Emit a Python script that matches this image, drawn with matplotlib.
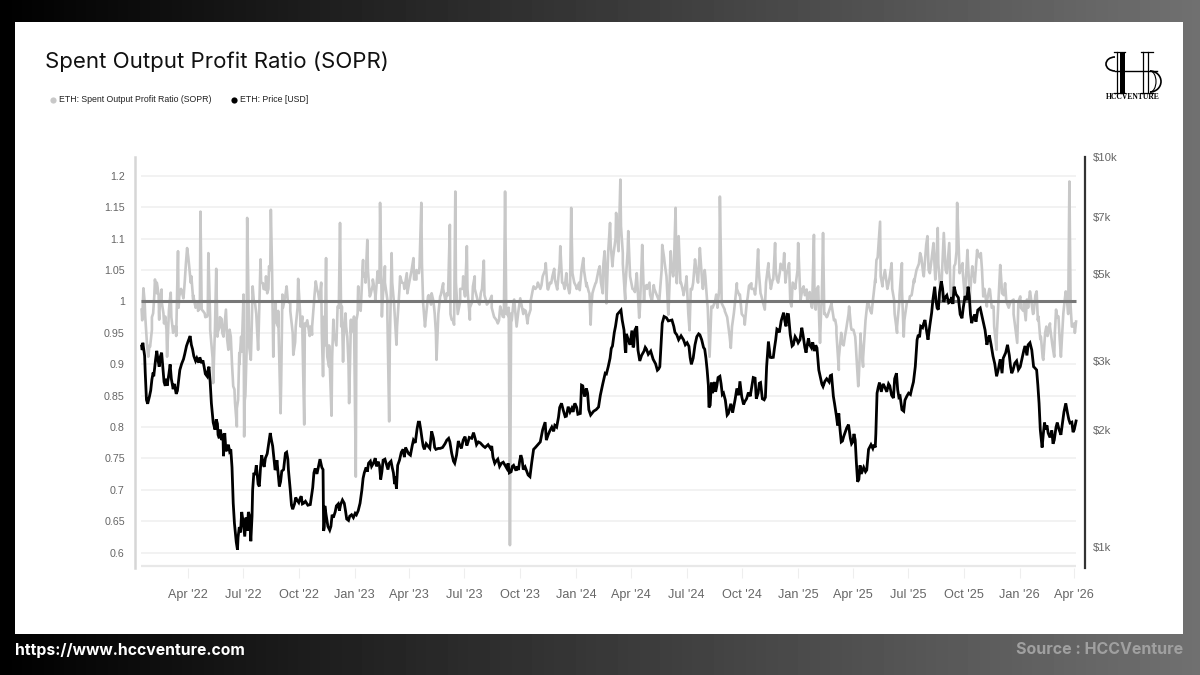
import matplotlib
matplotlib.use("Agg")
import numpy as np
import pandas as pd
import matplotlib.pyplot as plt
from matplotlib.patches import Arc, Rectangle
from matplotlib.ticker import FixedLocator, NullLocator

START = pd.Timestamp("2022-01-14")

# days since START
SOPR_DAYS = [1, 4, 7, 9, 12, 15, 18, 20, 23, 26, 29, 30, 34, 37, 40, 43, 47, 49, 53, 58, 61, 63, 68, 72, 76, 80, 83, 86, 91, 94,
             98, 100, 105, 109, 111, 114, 119, 124, 126, 130, 133, 136, 140, 144, 148, 152, 155, 158, 160, 162, 165, 169, 170, 171, 175, 178, 181, 184, 188, 193,
             197, 201, 205, 208, 211, 214, 216, 218, 222, 226, 230, 233, 240, 246, 251, 255, 259, 263, 266, 269, 271, 279, 282, 288, 292, 297, 300, 302, 305, 307,
             310, 314, 317, 324, 328, 331, 333, 337, 340, 343, 346, 351, 354, 357, 358, 362, 366, 370, 373, 377, 382, 386, 390, 394, 397, 402, 406, 409, 413, 417,
             421, 427, 433, 439, 449, 454, 459, 462, 465, 468, 473, 479, 484, 487, 493, 498, 504, 509, 512, 516, 518, 521, 526, 531, 534, 537, 539, 542, 547, 550,
             554, 560, 565, 569, 578, 583, 588, 592, 596, 600, 603, 606, 608, 610, 615, 619, 625, 631, 637, 642, 647, 653, 660, 667, 671, 676, 681, 686, 691, 696,
             701, 706, 709, 711, 717, 723, 729, 734, 739, 741, 744, 749, 756, 761, 764, 767, 773, 777, 783, 787, 790, 794, 798, 803, 807, 812, 817, 821, 826, 829,
             833, 839, 845, 853, 859, 863, 869, 873, 877, 881, 883, 886, 889, 894, 899, 904, 908, 913, 917, 921, 925, 929, 933, 937, 940, 948, 954, 957, 962, 968,
             972, 977, 982, 987, 995, 1000, 1006, 1012, 1017, 1021, 1028, 1034, 1037, 1041, 1045, 1048, 1053, 1060, 1064, 1068, 1072, 1078, 1083, 1087, 1092, 1097, 1103, 1105, 1109, 1112,
             1116, 1119, 1122, 1124, 1127, 1131, 1138, 1144, 1146, 1150, 1155, 1160, 1167, 1171, 1177, 1182, 1186, 1190, 1193, 1197, 1204, 1210, 1212, 1218, 1222, 1226, 1232, 1237, 1241, 1246,
             1250, 1254, 1257, 1262, 1267, 1274, 1278, 1284, 1289, 1296, 1300, 1306, 1309, 1313, 1317, 1323, 1328, 1332, 1336, 1340, 1345, 1349, 1354, 1358, 1362, 1366, 1370, 1374, 1378, 1384,
             1388, 1394, 1399, 1405, 1410, 1416, 1419, 1424, 1432, 1438, 1444, 1449, 1455, 1460, 1465, 1471, 1476, 1479, 1483, 1487, 1492, 1498, 1505, 1508, 1512, 1516, 1520, 1524, 1527, 1530,
             1532, 1535, 1539, 1541]
SOPR_VALUES = [.987, 1.021, .976, .944, .912, .928, .955, .981, 1.035, 1.013, 1.011, .971, 1.019, .981, .976, .912, .997, 1.014, .950, .960, 1.08, 1.008, 1.013, 1.03, 1.085, 1.05, 1.04, 1.003, .992, .997,
               1.143, .987, .981, .976, 1.077, .971, .87, 1.052, .944, .96, .972, .944, .987, .923, .944, .865, .838, .801, .843, .918, .944, 1.011, .785, .843, 1.133, .955, .907, 1.024, .997, .923,
               1.067, 1.029, 1.019, 1.013, 1.056, 1.146, 1.05, .912, .997, .96, .822, 1.011, 1.024, .997, .915, .96, 1.036, .96, .976, .804, .96, .96, .947, 1.032, 1.013, 1.03, .881, .976, 1.069, .912,
               .896, .818, .971, .992, 1.125, .992, .904, .981, .944, .838, .971, .976, .721, .981, 1.024, .987, 1.066, 1.045, 1.098, 1.008, 1.026, 1.011, 1.048, 1.157, .976, 1.056, 1.003, .809, 1.077, .997,
               .931, 1.04, 1.029, 1.013, 1.069, 1.035, 1.056, 1.157, .997, .96, 1.008, 1.013, .981, .907, 1.008, 1.029, 1.013, 1.122, .971, .963, 1.175, .997, 1.0, 1.04, 1.008, 1.088, 1.008, .971, 1.024, 1.04,
               1.005, 1.013, 1.065, 1.0, 1.009, .974, .965, .992, .976, 1.175, .981, .976, .612, .981, 1.003, .96, 1.005, .987, .965, .987, 1.024, 1.024, 1.026, 1.061, 1.019, 1.029, 1.052, 1.019, 1.088, 1.029,
               1.045, 1.013, 1.149, 1.045, 1.024, 1.018, 1.069, 1.024, 1.013, .963, 1.013, 1.029, 1.056, 1.013, 1.08, .997, 1.125, 1.056, 1.141, 1.08, 1.194, 1.077, 1.003, 1.112, 1.035, 1.019, 1.045, .974, 1.09, 1.0,
               1.026, 1.011, 1.026, 1.003, 1.09, 1.061, .979, 1.08, 1.04, 1.149, 1.029, 1.104, 1.029, 1.013, 1.04, .954, 1.019, 1.067, 1.035, 1.085, 1.029, 1.05, 1.0, .912, .992, 1.011, 1.167, .997, .987, .96,
               .926, .981, 1.029, 1.011, .963, 1.008, 1.029, 1.011, 1.083, 1.013, .987, 1.061, 1.029, 1.035, 1.093, 1.035, 1.048, 1.077, 1.045, 1.061, .992, 1.024, 1.093, 1.003, 1.024, 1.019, 1.008, .992, 1.106, .987,
               1.024, .934, 1.003, 1.109, .981, .976, .997, .971, .96, .891, .934, .944, .992, .955, .944, .865, .949, .896, .955, .997, .981, 1.035, 1.066, 1.127, 1.024, 1.05, 1.029, 1.061, 1.003, .95,
               1.003, 1.061, .944, .997, 1.008, 1.035, 1.05, 1.077, 1.045, 1.104, 1.045, 1.093, 1.035, 1.117, 1.024, 1.109, 1.045, 1.093, 1.003, 1.056, 1.157, 1.045, 1.061, 1.003, 1.082, 1.003, 1.056, 1.035, 1.082, 1.077,
               1.008, .992, 1.019, .992, .923, 1.058, 1.013, 1.029, .997, 1.003, .934, 1.008, .997, 1.003, 1.016, .981, 1.016, .976, .944, .907, .96, .965, .912, .987, .976, .912, .981, 1.016, .992, 1.191,
               .992, .96, .95, .968]
# finer wiggle of the grey band, read between the points above
SOPR_DETAIL = [(2, .97), (6, 1.0), (10, .93), (14, .93), (18, .975), (22, 1.01), (26, 1.03), (30, .985), (34, 1.0), (38, .965),
               (42, .955), (46, .985), (50, .975), (54, .96), (58, .945), (62, .99), (66, 1.02), (70, 1.005), (74, 1.06), (78, 1.07),
               (82, 1.03), (86, 1.01), (90, .99), (94, .985), (97, .99), (102, .985), (106, .975), (110, .98), (114, .955), (118, .91),
               (122, .96), (126, .95), (130, .975), (134, .95), (138, .965), (142, .94), (146, .955), (150, .90), (154, .86), (158, .83),
               (162, .90), (166, .92), (172, .85), (174, .92), (178, .93), (182, .94), (186, 1.0), (190, .98), (194, .955), (198, 1.03),
               (202, 1.02), (206, 1.04), (210, 1.02), (213, 1.05), (219, .96), (222, .97), (226, .985), (231, .87), (234, .99), (238, 1.01),
               (242, 1.0), (246, .985), (250, .95), (254, .935), (258, .99), (262, .985), (266, .95), (270, .965), (274, .97), (278, .945),
               (282, .96), (286, 1.01), (290, 1.02), (294, 1.0), (298, .95), (303, .93), (306, .94), (310, .93), (315, .91), (318, .95),
               (322, .93), (326, .99), (330, .96), (334, .94), (338, .96), (342, .90), (346, .95), (350, .96), (355, .97), (358, 1.0),
               (362, .985), (366, 1.04), (370, 1.03), (374, 1.05), (378, 1.01), (382, 1.035), (386, 1.0), (390, 1.03), (393, 1.03), (398, 1.0),
               (402, 1.03), (406, .98), (410, .93), (414, 1.03), (418, .98), (422, .96), (426, 1.02), (430, 1.03), (434, 1.02), (438, 1.045),
               (442, 1.03), (446, 1.05), (450, 1.035), (454, 1.05), (458, 1.045), (463, 1.06), (466, .985), (470, .98), (474, 1.01), (478, .995),
               (482, 1.0), (486, .95), (490, .98), (494, 1.01), (498, 1.02), (502, 1.0), (506, 1.01), (510, .98), (514, .97), (519, 1.03),
               (522, .98), (526, 1.02), (530, 1.02), (533, 1.015), (538, 1.02), (542, .99), (546, 1.0), (550, 1.02), (555, 1.0), (558, .995),
               (562, 1.02), (566, 1.01), (570, .995), (574, 1.0), (578, .99), (582, .975), (586, .97), (590, .97), (594, .985), (598, .975),
               (602, .98), (606, .99), (611, .97), (614, 1.0), (618, .97), (622, .985), (626, 1.0), (630, .98), (634, .985), (638, .975),
               (642, 1.0), (646, 1.02), (650, 1.02), (654, 1.03), (658, 1.02), (662, 1.04), (666, 1.05), (670, 1.02), (674, 1.03), (678, 1.04),
               (682, 1.035), (686, 1.02), (690, 1.06), (694, 1.03), (698, 1.02), (702, 1.03), (707, 1.02), (712, 1.04), (714, 1.03), (718, 1.02),
               (722, 1.03), (726, 1.05), (730, 1.05), (734, 1.03), (738, 1.015), (742, .99), (746, 1.02), (750, 1.03), (754, 1.05), (758, 1.03),
               (762, 1.06), (766, 1.04), (770, 1.08), (774, 1.09), (778, 1.07), (782, 1.10), (786, 1.09), (791, 1.12), (794, 1.06), (798, 1.02),
               (802, 1.08), (806, 1.04), (810, 1.02), (814, 1.015), (818, 1.03), (822, .985), (825, 1.06), (830, 1.02), (834, 1.02), (838, 1.03),
               (842, 1.0), (846, 1.02), (850, 1.01), (854, 1.0), (858, 1.05), (862, 1.07), (866, 1.04), (870, 1.0), (874, 1.06), (878, 1.05),
               (882, 1.07), (885, 1.08), (890, 1.03), (894, 1.01), (898, 1.03), (902, .98), (906, 1.02), (910, 1.03), (914, 1.06), (918, 1.03),
               (922, 1.07), (926, 1.02), (930, 1.04), (934, .99), (938, .94), (942, .99), (946, 1.0), (950, .99), (953, 1.02), (958, .995),
               (962, .985), (966, .975), (970, .945), (974, .96), (978, .99), (982, 1.02), (986, 1.01), (990, .98), (994, .975), (998, .995),
               (1002, 1.025), (1006, 1.02), (1010, 1.02), (1014, 1.03), (1018, 1.05), (1022, 1.01), (1026, .995), (1030, 1.03), (1034, 1.05), (1038, 1.02),
               (1042, 1.035), (1046, 1.05), (1050, 1.03), (1054, 1.06), (1058, 1.05), (1062, 1.03), (1066, 1.05), (1070, 1.0), (1074, 1.03), (1078, 1.02),
               (1082, 1.05), (1086, 1.02), (1090, 1.02), (1094, 1.01), (1098, 1.0), (1102, 1.015), (1106, .99), (1110, 1.0), (1114, 1.02), (1118, .96),
               (1121, .99), (1126, .98), (1130, .975), (1134, .985), (1138, .995), (1142, .97), (1146, .95), (1150, .91), (1154, .95), (1158, .93),
               (1162, .955), (1166, .98), (1170, .96), (1174, .955), (1178, .93), (1183, .88), (1186, .94), (1190, .91), (1194, .97), (1198, 1.0),
               (1202, .985), (1206, 1.0), (1210, 1.03), (1214, 1.07), (1219, 1.04), (1222, 1.03), (1226, 1.05), (1230, 1.02), (1234, 1.04), (1238, 1.02),
               (1242, .98), (1246, .96), (1250, 1.01), (1254, 1.02), (1258, .97), (1262, 1.0), (1266, 1.0), (1270, 1.01), (1274, 1.03), (1278, 1.05),
               (1282, 1.06), (1286, 1.07), (1290, 1.04), (1294, 1.09), (1298, 1.05), (1302, 1.06), (1306, 1.09), (1310, 1.05), (1314, 1.06), (1318, 1.0),
               (1322, 1.09), (1326, 1.05), (1330, 1.07), (1334, 1.02), (1338, 1.0), (1342, 1.06), (1344, 1.08), (1350, 1.05), (1354, 1.05), (1358, 1.01),
               (1362, 1.08), (1366, 1.01), (1370, 1.05), (1374, 1.03), (1378, 1.08), (1382, 1.07), (1386, 1.05), (1390, 1.02), (1394, 1.0), (1398, 1.02),
               (1402, .99), (1406, .96), (1410, .94), (1414, 1.02), (1418, 1.03), (1422, 1.01), (1426, 1.0), (1430, .99), (1434, 1.0), (1438, .98),
               (1442, .95), (1446, 1.0), (1450, .99), (1454, .985), (1458, .97), (1462, .99), (1466, 1.01), (1470, .98), (1474, 1.01), (1478, .97),
               (1482, .94), (1486, .91), (1490, .95), (1494, .945), (1498, .96), (1502, .93), (1506, .95), (1510, .975), (1514, .94), (1518, .945),
               (1522, 1.0), (1526, 1.0), (1528, .98), (1534, .96), (1538, .965)]

PRICE_DAYS = [1, 3, 6, 9, 14, 18, 21, 26, 30, 34, 40, 43, 48, 53, 60, 64, 70, 75, 81, 85, 90, 97, 104, 109, 112, 116, 119, 124, 127, 131,
              136, 138, 142, 148, 152, 156, 159, 162, 166, 171, 177, 181, 186, 191, 195, 199, 203, 208, 213, 217, 221, 224, 228, 232, 240, 243, 250, 257, 262, 268,
              279, 287, 293, 298, 301, 303, 311, 317, 322, 329, 335, 339, 347, 355, 361, 368, 375, 383, 391, 395, 399, 409, 416, 421, 426, 432, 441, 449, 457, 461,
              465, 473, 479, 484, 493, 504, 509, 517, 525, 534, 539, 548, 556, 564, 578, 583, 594, 600, 607, 614, 622, 626, 633, 641, 647, 658, 666, 671, 677, 685,
              693, 701, 710, 715, 724, 728, 736, 743, 754, 765, 770, 777, 782, 788, 793, 799, 800, 809, 812, 817, 822, 833, 844, 853, 859, 866, 875, 883, 894, 900,
              907, 916, 921, 929, 933, 938, 940, 949, 954, 960, 968, 979, 987, 995, 1004, 1012, 1017, 1021, 1027, 1031, 1034, 1037, 1042, 1046, 1050, 1059, 1063, 1067, 1073, 1078,
              1083, 1089, 1096, 1100, 1105, 1114, 1117, 1122, 1127, 1138, 1141, 1146, 1150, 1154, 1160, 1166, 1171, 1177, 1181, 1185, 1196, 1199, 1210, 1213, 1217, 1226, 1234, 1240, 1245, 1251,
              1257, 1262, 1270, 1276, 1279, 1285, 1292, 1297, 1303, 1308, 1314, 1319, 1325, 1333, 1340, 1347, 1353, 1363, 1369, 1374, 1383, 1388, 1394, 1398, 1404, 1410, 1416, 1419, 1428, 1435,
              1440, 1449, 1457, 1465, 1471, 1476, 1480, 1485, 1489, 1495, 1503, 1510, 1516, 1524, 1529, 1536, 1541]
PRICE_VALUES = [3277, 3340, 3090, 2385, 2435, 2690, 2740, 3185, 2900, 3150, 2590, 2590, 2940, 2540, 2515, 2844, 3030, 3277, 3475, 3215, 3000, 3065, 2900, 2740, 2900, 2336, 2085, 2125, 1940, 2000,
                1710, 1960, 1790, 1780, 1295, 1064, 984, 1125, 1230, 1064, 1230, 1035, 1550, 1565, 1430, 1720, 1605, 1735, 1960, 1815, 1576, 1670, 1430, 1565, 1750, 1576, 1250, 1320, 1330, 1295,
                1285, 1590, 1620, 1600, 1100, 1275, 1105, 1190, 1275, 1285, 1295, 1180, 1210, 1210, 1295, 1550, 1640, 1640, 1655, 1490, 1670, 1640, 1550, 1410, 1670, 1780, 1735, 1880, 2090, 2000,
                1815, 1815, 1980, 1800, 1790, 1880, 1860, 1640, 1830, 1919, 1860, 1965, 1860, 1815, 1815, 1640, 1640, 1620, 1550, 1620, 1576, 1720, 1605, 1515, 1780, 1860, 2090, 1940, 2030, 2030,
                2336, 2165, 2270, 2336, 2200, 2590, 2480, 2200, 2285, 2790, 2900, 3277, 3680, 4000, 3820, 3150, 3520, 3590, 3277, 3680, 3000, 3215, 3030, 2860, 3750, 3870, 3820, 3500, 3400, 3340,
                2940, 3463, 3500, 3215, 2844, 2310, 2640, 2590, 2740, 2480, 2200, 2385, 2660, 2360, 2435, 2710, 2480, 2640, 2385, 2900, 3365, 3065, 3065, 3400, 3600, 3990, 3680, 3945, 3277, 3463,
                3340, 3650, 3150, 3430, 3240, 3240, 2844, 2620, 2660, 2760, 2435, 2170, 2200, 1860, 1960, 2060, 1840, 1880, 1470, 1620, 1576, 1780, 1800, 2480, 2640, 2565, 2590, 2410, 2790, 2435,
                2230, 2435, 2540, 2900, 3400, 3680, 3820, 3400, 3990, 4650, 4060, 4800, 4360, 4250, 4650, 4360, 3860, 4650, 3750, 3945, 4100, 3780, 3300, 3490, 3090, 2740, 3030, 2790, 3300, 2790,
                2960, 2900, 3277, 3340, 2900, 2844, 2336, 1800, 2085, 1960, 1840, 2085, 1940, 2336, 2125, 1970, 2105]
PRICE_DETAIL = [(2, 3200), (7, 2800), (11, 2330), (16, 2520), (20, 2800), (24, 3020), (28, 3020), (32, 3080), (36, 2900), (38, 2650),
                (42, 2700), (46, 2780), (50, 2700), (55, 2620), (58, 2470), (62, 2680), (67, 2950), (72, 3120), (78, 3380), (83, 3300),
                (87, 3090), (92, 3050), (95, 2970), (100, 2960), (102, 3010), (106, 2780), (110, 2820), (114, 2650), (117, 2250), (122, 2000),
                (126, 2070), (129, 1900), (133, 1880), (135, 1950), (140, 1760), (144, 1830), (146, 1760), (150, 1600), (154, 1150), (157, 1030),
                (160, 1060), (164, 1090), (168, 1170), (173, 1190), (175, 1100), (179, 1200), (183, 1200), (184, 1400), (188, 1530), (190, 1620),
                (193, 1450), (197, 1600), (201, 1640), (205, 1690), (210, 1820), (215, 1880), (219, 1690), (223, 1600), (226, 1540), (230, 1470),
                (235, 1580), (238, 1740), (242, 1680), (246, 1400), (248, 1280), (253, 1290), (255, 1340), (260, 1300), (264, 1350), (266, 1290),
                (271, 1310), (275, 1280), (283, 1420), (285, 1550), (290, 1540), (295, 1680), (300, 1580), (302, 1120), (305, 1210), (308, 1130),
                (313, 1130), (315, 1210), (320, 1230), (325, 1290), (327, 1240), (332, 1320), (337, 1240), (342, 1170), (344, 1200), (350, 1190),
                (353, 1220), (358, 1240), (364, 1400), (366, 1500), (371, 1600), (373, 1560), (378, 1660), (380, 1610), (386, 1690), (388, 1610),
                (393, 1620), (397, 1560), (402, 1680), (405, 1620), (407, 1580), (412, 1660), (414, 1600), (418, 1450), (419, 1520), (423, 1620),
                (429, 1750), (434, 1700), (436, 1800), (444, 1720), (447, 1820), (452, 1850), (455, 2010), (459, 2090), (463, 1900), (467, 1780),
                (470, 1840), (476, 1790), (482, 1900), (486, 1780), (490, 1790), (497, 1800), (501, 1840), (507, 1900), (512, 1740), (515, 1660),
                (520, 1720), (523, 1870), (528, 1790), (531, 1880), (537, 1820), (541, 1910), (545, 1900), (551, 1890), (553, 1830), (559, 1850),
                (567, 1800), (572, 1830), (576, 1790), (580, 1700), (585, 1660), (588, 1680), (591, 1610), (597, 1650), (603, 1590), (605, 1640),
                (610, 1560), (612, 1610), (618, 1570), (620, 1610), (624, 1660), (628, 1680), (630, 1580), (636, 1560), (638, 1530), (644, 1650),
                (650, 1800), (654, 1830), (662, 2000), (668, 1880), (674, 1990), (680, 1980), (682, 2050), (688, 2150), (690, 2280), (696, 2240),
                (699, 2160), (704, 2290), (707, 2220), (712, 2220), (718, 2280), (720, 2190), (726, 2600), (731, 2430), (734, 2550), (738, 2250),
                (741, 2180), (746, 2230), (750, 2250), (757, 2450), (761, 2620), (767, 2780), (773, 3050), (775, 3230), (780, 3550), (785, 3950),
                (791, 4050), (796, 3600), (798, 3200), (803, 3400), (806, 3300), (811, 3250), (814, 3600), (819, 3200), (825, 3100), (829, 3180),
                (831, 3250), (836, 3120), (840, 3180), (848, 2950), (851, 2840), (855, 2900), (857, 3300), (862, 3900), (869, 3800), (878, 3680),
                (880, 3550), (886, 3400), (890, 3480), (897, 3300), (903, 3270), (905, 3060), (910, 3050), (913, 3300), (919, 3520), (924, 3400),
                (927, 3250), (931, 3050), (935, 2600), (936, 2280), (942, 2480), (945, 2650), (947, 2500), (951, 2720), (956, 2620), (958, 2460),
                (963, 2380), (966, 2180), (972, 2330), (975, 2210), (982, 2550), (985, 2450), (990, 2430), (993, 2320), (998, 2400), (1001, 2490),
                (1007, 2600), (1009, 2720), (1014, 2400), (1019, 2630), (1024, 2400), (1029, 2420), (1032, 3050), (1039, 3060), (1044, 3240), (1048, 3620),
                (1052, 3550), (1055, 3800), (1061, 3800), (1065, 3950), (1070, 3500), (1075, 3300), (1081, 3400), (1086, 3400), (1091, 3500), (1094, 3250),
                (1098, 3300), (1102, 3300), (1107, 3350), (1110, 3180), (1112, 3290), (1119, 2750), (1124, 2580), (1130, 2700), (1134, 2650), (1136, 2750),
                (1143, 2330), (1148, 2050), (1152, 2000), (1156, 1870), (1158, 1920), (1163, 2020), (1169, 1900), (1173, 1860), (1175, 1950), (1179, 1640),
                (1183, 1490), (1187, 1540), (1191, 1600), (1194, 1560), (1203, 1830), (1206, 1790), (1208, 1830), (1211, 1950), (1215, 2570), (1220, 2500),
                (1223, 2620), (1229, 2500), (1232, 2620), (1237, 2450), (1242, 2700), (1247, 2530), (1249, 2420), (1254, 2250), (1259, 2380), (1265, 2480),
                (1268, 2460), (1273, 2650), (1281, 3500), (1283, 3450), (1288, 3650), (1290, 3750), (1295, 3550), (1300, 3700), (1305, 4300), (1310, 4300),
                (1312, 4100), (1316, 4500), (1321, 4600), (1323, 4250), (1328, 4420), (1331, 4230), (1336, 4370), (1338, 4200), (1343, 4450), (1350, 3950),
                (1355, 4100), (1358, 4400), (1361, 4300), (1365, 4400), (1367, 3950), (1371, 3850), (1376, 3780), (1379, 4050), (1386, 3900), (1391, 3600),
                (1396, 3400), (1401, 3300), (1407, 2950), (1413, 2860), (1421, 3050), (1425, 3150), (1431, 3100), (1433, 2900), (1437, 2840), (1443, 3000),
                (1446, 2850), (1452, 3050), (1455, 3200), (1460, 3100), (1462, 3300), (1468, 3200), (1473, 2880), (1478, 2600), (1482, 2000), (1487, 1950),
                (1491, 2000), (1493, 2050), (1498, 1910), (1501, 1990), (1505, 1880), (1508, 2030), (1513, 2000), (1519, 2100), (1521, 2220), (1527, 2200),
                (1531, 2080), (1534, 2090), (1538, 2000)]

SOPR_TICKS = [0.6, 0.65, 0.7, 0.75, 0.8, 0.85, 0.9, 0.95, 1, 1.05, 1.1, 1.15, 1.2]
SOPR_LABELS = ["0.6", "0.65", "0.7", "0.75", "0.8", "0.85", "0.9", "0.95", "1", "1.05", "1.1", "1.15", "1.2"]
PRICE_TICKS = [1000, 2000, 3000, 5000, 7000, 10000]
PRICE_LABELS = ["$1k", "$2k", "$3k", "$5k", "$7k", "$10k"]
DATE_TICKS = ["2022-04-01", "2022-07-01", "2022-10-01", "2023-01-01", "2023-04-01", "2023-07-01", "2023-10-01", "2024-01-01", "2024-04-01",
              "2024-07-01", "2024-10-01", "2025-01-01", "2025-04-01", "2025-07-01", "2025-10-01", "2026-01-01", "2026-04-01"]
DATE_LABELS = ["Apr '22", "Jul '22", "Oct '22", "Jan '23", "Apr '23", "Jul '23", "Oct '23", "Jan '24", "Apr '24",
               "Jul '24", "Oct '24", "Jan '25", "Apr '25", "Jul '25", "Oct '25", "Jan '26", "Apr '26"]

W, H = 1200, 675


def to_dates(days):
    return START + pd.to_timedelta(days, unit="D")


def merged(days, values, detail):
    # put the finer readings in date order with the main ones
    all_days = np.array(list(days) + [d for d, _ in detail])
    all_values = np.array(list(values) + [v for _, v in detail])
    order = np.argsort(all_days, kind="stable")
    return to_dates(all_days[order]), all_values[order]


def draw_logo(bg):
    col = "black"
    bg.add_patch(Rectangle((1119.5, 52), 5.5, 41, color=col, lw=0, zorder=3))
    for x in (1116.7, 1143.3, 1148):
        bg.plot([x, x], [52, 93], color=col, lw=0.9, zorder=3)
    bg.plot([1114, 1125], [52.3, 52.3], color=col, lw=0.9, zorder=3)
    bg.plot([1141, 1153], [52.3, 52.3], color=col, lw=0.9, zorder=3)
    bg.plot([1114, 1125], [92.8, 92.8], color=col, lw=0.9, zorder=3)
    bg.plot([1141, 1153], [92.8, 92.8], color=col, lw=0.9, zorder=3)
    bg.plot([1115, 1157], [70.7, 70.7], color=col, lw=1.0, zorder=3)
    bg.add_patch(Arc((1115, 64), 18, 14, theta1=90, theta2=270, color=col, lw=1.2, zorder=3))
    bg.add_patch(Arc((1150, 81.5), 22, 21, theta1=-90, theta2=90, color=col, lw=1.2, zorder=3))
    bg.add_patch(Arc((1150, 81.5), 12, 21, theta1=-90, theta2=90, color=col, lw=0.8, zorder=3))
    bg.text(1132.5, 96.8, "HCCVENTURE", family="Liberation Serif", fontsize=5.5, weight="bold",
            ha="center", va="center", color=col, zorder=3)


fig = plt.figure(figsize=(W / 100, H / 100), dpi=100)

# page background, drawn in pixel coordinates
bg = fig.add_axes([0, 0, 1, 1])
bg.set_xlim(0, W)
bg.set_ylim(H, 0)
bg.axis("off")
bg.imshow(np.linspace(0, 0.44, 600)[None, :], cmap="gray", vmin=0, vmax=1, extent=[0, W, H, 0], aspect="auto")
bg.add_patch(Rectangle((15, 22), 1168, 612, color="white", lw=0))
bg.text(45, 62, "Spent Output Profit Ratio (SOPR)", family="Inter", fontsize=16, va="center", color="#111111")
bg.scatter([53], [100], s=20, color="#c8c8c8", lw=0)
bg.text(59, 100, "ETH: Spent Output Profit Ratio (SOPR)", family="Liberation Sans", fontsize=6.35, va="center", color="#222222")
bg.scatter([234], [100], s=20, color="black", lw=0)
bg.text(240, 100, "ETH: Price [USD]", family="Liberation Sans", fontsize=6.35, va="center", color="#222222")
bg.text(15, 650, "https://www.hccventure.com", family="Inter", fontsize=11.35, weight="bold", va="center", color="white")
bg.text(1183, 650, "Source : HCCVenture", family="Inter", fontsize=11.5, weight="bold", va="center", ha="right", color="#a0a0a0")
draw_logo(bg)

# chart
left, right, top, bottom = 134.5, 1085, 157, 568
ax = fig.add_axes([left / W, 1 - bottom / H, (right - left) / W, (bottom - top) / H])
ax.patch.set_alpha(0)
ax.set_xlim(to_dates(-10.7), to_dates(1555.7))
ax.set_ylim(0.5756, 1.230)
t0, t1 = to_dates(0), to_dates(1541)

sopr_x, sopr_y = merged(SOPR_DAYS, SOPR_VALUES, SOPR_DETAIL)
price_x, price_y = merged(PRICE_DAYS, PRICE_VALUES, PRICE_DETAIL)

ax.hlines(SOPR_TICKS, t0, t1, color="#f0f0f0", lw=1.2, zorder=1)
ax.plot(sopr_x, sopr_y, color="#c8c8c8", lw=1.9, zorder=2)
ax.hlines([1], t0, t1, color="#777777", lw=2.2, zorder=3)
ax.hlines([0.5756 + 0.0032], t0, t1, color="#e8e8e8", lw=1.6, zorder=1)

ax.set_yticks(SOPR_TICKS)
ax.set_yticklabels(SOPR_LABELS)
ax.set_xticks(pd.to_datetime(DATE_TICKS))
ax.set_xticklabels(DATE_LABELS)
ax.tick_params(axis="y", length=0, pad=7, labelsize=7.7, labelcolor="#666666")
ax.tick_params(axis="x", length=7, width=0.8, color="#eeeeee", pad=8, labelsize=9.1, labelcolor="#666666")
for name in ("top", "right", "bottom"):
    ax.spines[name].set_visible(False)
ax.spines["left"].set_color("#d6d6d6")
ax.spines["left"].set_linewidth(1.8)
for lab in ax.get_xticklabels() + ax.get_yticklabels():
    lab.set_family("Liberation Sans")

# price on its own log axis
ax2 = ax.twinx()
ax2.patch.set_alpha(0)
ax2.set_yscale("log")
ax2.set_ylim(883.6, 10000)
ax2.plot(price_x, price_y, color="black", lw=2.0, zorder=4, solid_joinstyle="miter")
ax2.yaxis.set_major_locator(FixedLocator(PRICE_TICKS))
ax2.yaxis.set_minor_locator(NullLocator())
ax2.set_yticklabels(PRICE_LABELS)
ax2.tick_params(axis="y", length=0, pad=6, labelsize=8.2, labelcolor="#666666")
for lab in ax2.get_yticklabels():
    lab.set_family("Liberation Sans")
for name in ("top", "left", "bottom"):
    ax2.spines[name].set_visible(False)
ax2.spines["right"].set_color("#333333")
ax2.spines["right"].set_linewidth(1.6)

fig.savefig("out.png", dpi=100)
